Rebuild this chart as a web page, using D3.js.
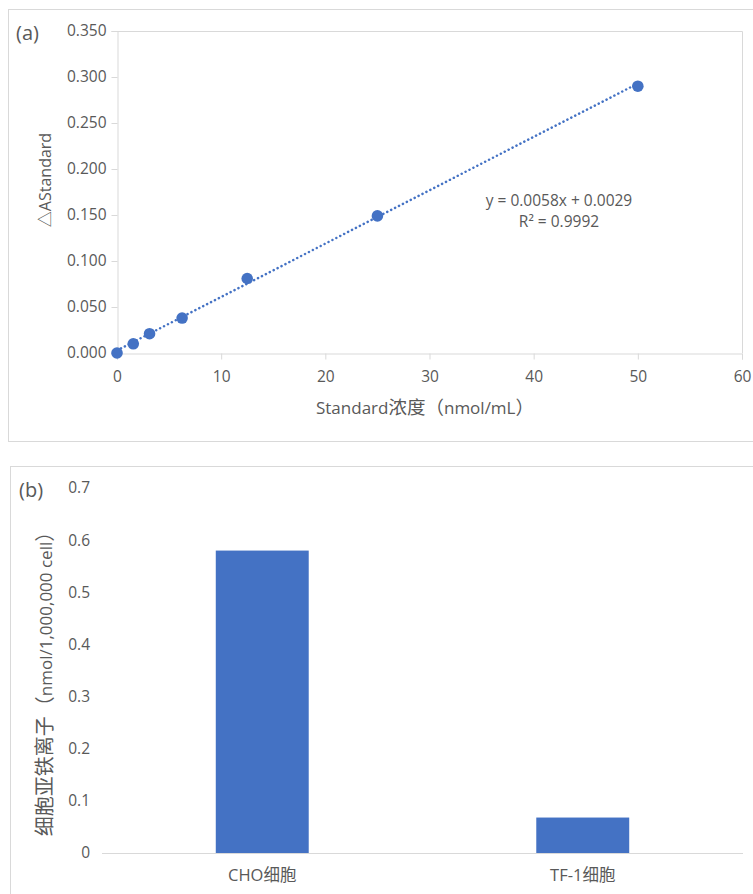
<!DOCTYPE html>
<html lang="zh">

<head>
    <meta charset="utf-8">
    <script src='https://d3js.org/d3.v7.min.js'></script>
</head>

<body style="margin:0; background:#ffffff;">

    <style>
        svg text {
            font-family: 'Segoe UI', 'Open Sans', 'Noto Sans CJK SC', sans-serif;
            fill: #595959;
        }
    </style>

    <script>
        var width = 753, height = 894;

        // (a) standard curve data
        var stdConc = [0, 1.5625, 3.125, 6.25, 12.5, 25, 50];
        var stdAbs = [0.000, 0.010, 0.021, 0.038, 0.081, 0.149, 0.290];
        var fitSlope = 0.0058, fitIntercept = 0.0029;
        var fitLabels = ['y = 0.0058x + 0.0029', 'R² = 0.9992'];
        var xTicksA = [0, 10, 20, 30, 40, 50, 60];
        var yTicksA = [0, 0.05, 0.1, 0.15, 0.2, 0.25, 0.3, 0.35];

        // (b) ferrous ion per cell line
        var cellLines = ['CHO细胞', 'TF-1细胞'];
        var ferrous = [0.58, 0.068];
        var yTicksB = [0, 0.1, 0.2, 0.3, 0.4, 0.5, 0.6, 0.7];

        var blue = '#4472C4', grid = '#d9d9d9';

        var svg = d3.select('body').append('svg').attr('width', width).attr('height', height);

        // panel frames
        svg.append('rect').attr('x', 8.5).attr('y', 9.5).attr('width', 760).attr('height', 432)
            .attr('fill', 'none').attr('stroke', grid);
        svg.append('rect').attr('x', 10.5).attr('y', 466.5).attr('width', 760).attr('height', 440)
            .attr('fill', 'none').attr('stroke', grid);

        // ---------- panel (a) ----------
        var x = d3.scaleLinear().domain([0, 60]).range([117, 742]);
        var y = d3.scaleLinear().domain([0, 0.35]).range([353, 31]);

        var ga = svg.append('g');

        // plot area border (top and right)
        ga.append('path')
            .attr('d', 'M' + x(0) + ',' + (y(0.35) + 0.5) + 'H' + (x(60) + 0.5) + 'V' + y(0))
            .attr('fill', 'none').attr('stroke', grid);

        var yAxisA = ga.append('g').attr('transform', 'translate(' + (x(0) + 0.5) + ',0)')
            .call(d3.axisLeft(y).tickValues(yTicksA).tickFormat(d3.format('.3f')).tickSize(6).tickPadding(5));
        var xAxisA = ga.append('g').attr('transform', 'translate(0,' + (y(0) + 0.5) + ')')
            .call(d3.axisBottom(x).tickValues(xTicksA).tickSize(6).tickPadding(11));

        [yAxisA, xAxisA].forEach(function(a) {
            a.selectAll('path, line').attr('stroke', grid);
            a.selectAll('text').style('font-size', '15.5px').attr('fill', '#595959');
        });

        // trendline
        ga.append('line')
            .attr('x1', x(0)).attr('y1', y(fitIntercept))
            .attr('x2', x(50)).attr('y2', y(fitSlope * 50 + fitIntercept))
            .attr('stroke', blue).attr('stroke-width', 2.5)
            .attr('stroke-linecap', 'round').attr('stroke-dasharray', '0.1 4.3');

        ga.selectAll('circle')
            .data(stdConc)
            .join('circle')
            .attr('cx', function(d) { return x(d); })
            .attr('cy', function(d, i) { return y(stdAbs[i]); })
            .attr('r', 5.8)
            .attr('fill', blue);

        ga.selectAll('text.fit')
            .data(fitLabels)
            .join('text')
            .attr('class', 'fit')
            .attr('x', 559)
            .attr('y', function(d, i) { return 205.5 + i * 21.5; })
            .attr('text-anchor', 'middle')
            .style('font-size', '15.5px')
            .text(function(d) { return d; });

        ga.append('text').attr('x', 16).attr('y', 40).style('font-size', '20px').text('(a)');

        ga.append('text')
            .attr('transform', 'translate(51,180) rotate(-90)')
            .attr('text-anchor', 'middle')
            .style('font-size', '16px')
            .text('△AStandard');

        var xTitle = ga.append('text')
            .attr('x', 425).attr('y', 414)
            .attr('text-anchor', 'middle')
            .style('font-size', '17px');
        xTitle.append('tspan').text('Standard');
        xTitle.append('tspan').style('font-size', '18.5px').text('浓度（');
        xTitle.append('tspan').text('nmol/mL');
        xTitle.append('tspan').style('font-size', '18.5px').text('）');

        // ---------- panel (b) ----------
        var xb = d3.scaleBand().domain(cellLines).range([102, 743])
            .paddingInner(0.71).paddingOuter(0.355);
        var yb = d3.scaleLinear().domain([0, 0.7]).range([853, 488]);

        var gb = svg.append('g');

        gb.selectAll('rect.bar')
            .data(cellLines)
            .join('rect')
            .attr('class', 'bar')
            .attr('x', function(d) { return xb(d); })
            .attr('width', xb.bandwidth())
            .attr('y', function(d, i) { return yb(ferrous[i]); })
            .attr('height', function(d, i) { return yb(0) - yb(ferrous[i]); })
            .attr('fill', blue);

        var yAxisB = gb.append('g').attr('transform', 'translate(90,0)')
            .call(d3.axisLeft(yb).tickValues(yTicksB).tickFormat(d3.format('~g')).tickSize(0).tickPadding(0));
        yAxisB.select('.domain').remove();
        yAxisB.selectAll('text').style('font-size', '15.5px').attr('fill', '#595959');

        var xAxisB = gb.append('g').attr('transform', 'translate(0,' + (yb(0) + 0.5) + ')')
            .call(d3.axisBottom(xb).tickSize(0).tickPadding(16));
        xAxisB.select('.domain').attr('stroke', grid).attr('stroke-width', 1.2)
            .attr('d', 'M102,0H743');
        xAxisB.selectAll('text').style('font-size', '16.5px').attr('fill', '#595959');

        gb.append('text').attr('x', 19).attr('y', 497).style('font-size', '20px').text('(b)');

        var yTitleB = gb.append('text')
            .attr('transform', 'translate(52,679) rotate(-90)')
            .attr('text-anchor', 'middle')
            .style('font-size', '17px');
        yTitleB.append('tspan').style('font-size', '20px').text('细胞亚铁离子（');
        yTitleB.append('tspan').text('nmol/1,000,000 cell');
        yTitleB.append('tspan').style('font-size', '20px').text('）');
    </script>

</body>

</html>
